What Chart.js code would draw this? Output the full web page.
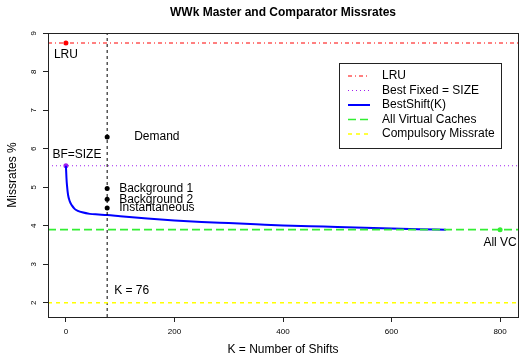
<!DOCTYPE html>
<html>
<head>
<meta charset="utf-8">
<script src="https://cdn.jsdelivr.net/npm/chart.js@4/dist/chart.umd.min.js"></script>
<style>
  html, body { margin: 0; padding: 0; background: #fff; }
  canvas { display: block; }
</style>
</head>
<body>
<canvas id="missChart" width="522" height="358"></canvas>
<script>
// BestShift(K) curve
const shiftK = [0, 1, 2, 4, 7, 11, 16, 22, 30, 44, 60, 76, 100, 150, 200, 250, 300, 350, 400, 450, 500, 550, 600, 650, 700];
const bestShift = [5.56, 5.25, 5.05, 4.80, 4.64, 4.53, 4.44, 4.39, 4.35, 4.31, 4.295, 4.28, 4.25, 4.19, 4.14, 4.10, 4.07, 4.04, 4.01, 3.99, 3.97, 3.95, 3.93, 3.91, 3.90];

// horizontal reference levels
const refNames = ['LRU', 'Best Fixed = SIZE', 'All Virtual Caches', 'Compulsory Missrate'];
const refValues = [8.75, 5.56, 3.90, 2.00];

// labelled marker points
const markerLabels = ['LRU', 'BF=SIZE', 'All VC'];
const markerK = [0, 0, 800];
const markerValues = [8.75, 5.56, 3.90];

// policies at the chosen K
const chosenK = 76;
const policyNames = ['Demand', 'Background 1', 'Background 2', 'Instantaneous'];
const policyValues = [6.31, 4.97, 4.69, 4.46];

const xTicks = [0, 200, 400, 600, 800];
const yTicks = [2, 3, 4, 5, 6, 7, 8, 9];
const xRange = [-33, 833];
const yRange = [1.63, 9.01];

const FONT = '"Liberation Sans", Arial, Helvetica, sans-serif';
const RED = '#FF0000', PURPLE = '#A020F0', BLUE = '#0000FF', GREEN = '#33EE33', YELLOW = '#FFFF00';

const refStyles = [
    {color: RED, dash: [4, 3, 1, 3], width: 1},
    {color: PURPLE, dash: [1, 3], width: 1.2},
    {color: GREEN, dash: [8, 4], width: 1.6},
    {color: YELLOW, dash: [4, 4], width: 1.5}
];

const hline = (i) => ({
    label: refNames[i],
    data: [{x: xRange[0], y: refValues[i]}, {x: xRange[1], y: refValues[i]}],
    showLine: true,
    borderColor: refStyles[i].color,
    borderDash: refStyles[i].dash,
    borderWidth: refStyles[i].width,
    pointRadius: 0
});

const datasets = [
    hline(0), hline(1), hline(3),
    {
        label: 'K line',
        data: [{x: chosenK, y: yRange[0]}, {x: chosenK, y: yRange[1]}],
        showLine: true, borderColor: '#000', borderDash: [3, 3], borderWidth: 1, pointRadius: 0
    },
    hline(2),
    {
        label: 'BestShift(K)',
        data: shiftK.map((k, i) => ({x: k, y: bestShift[i]})),
        showLine: true, borderColor: BLUE, borderWidth: 2, pointRadius: 0,
        cubicInterpolationMode: 'monotone'
    },
    {
        label: 'markers',
        data: markerK.map((k, i) => ({x: k, y: markerValues[i]})),
        showLine: false, pointRadius: 2.5, borderWidth: 0,
        pointBackgroundColor: [RED, PURPLE, GREEN]
    },
    {
        label: 'policies',
        data: policyValues.map(v => ({x: chosenK, y: v})),
        showLine: false, pointRadius: 2.5, borderWidth: 0, pointBackgroundColor: '#000'
    }
];

const decor = {
    id: 'decor',
    afterDraw(chart) {
        const ctx = chart.ctx, a = chart.chartArea;
        const xs = chart.scales.x, ys = chart.scales.y;
        ctx.save();
        // box
        ctx.strokeStyle = '#222';
        ctx.lineWidth = 1;
        ctx.strokeRect(a.left + 0.5, a.top + 0.5, a.right - a.left, a.bottom - a.top);

        // title + axis titles
        ctx.fillStyle = '#000';
        ctx.textAlign = 'center';
        ctx.textBaseline = 'middle';
        ctx.font = 'bold 12px ' + FONT;
        ctx.fillText('WWk Master and Comparator Missrates', (a.left + a.right) / 2, 13);
        ctx.font = '12px ' + FONT;
        ctx.fillText('K = Number of Shifts', (a.left + a.right) / 2, 350);
        ctx.save();
        ctx.translate(13, (a.top + a.bottom) / 2);
        ctx.rotate(-Math.PI / 2);
        ctx.fillText('Missrates %', 0, 0);
        ctx.restore();

        // rotated y tick labels
        ctx.font = '8px ' + FONT;
        yTicks.forEach(v => {
            ctx.save();
            ctx.translate(34, ys.getPixelForValue(v));
            ctx.rotate(-Math.PI / 2);
            ctx.fillText(String(v), 0, 0);
            ctx.restore();
        });

        // point labels
        ctx.font = '12px ' + FONT;
        ctx.fillText(markerLabels[0], xs.getPixelForValue(markerK[0]), ys.getPixelForValue(markerValues[0]) + 12);
        ctx.fillText(markerLabels[1], xs.getPixelForValue(markerK[1]) + 11, ys.getPixelForValue(markerValues[1]) - 11);
        ctx.fillText(markerLabels[2], xs.getPixelForValue(markerK[2]), ys.getPixelForValue(markerValues[2]) + 13);

        ctx.textAlign = 'left';
        const px = xs.getPixelForValue(chosenK);
        ctx.fillText(policyNames[0], px + 27, ys.getPixelForValue(policyValues[0]));
        for (let i = 1; i < policyNames.length; i++) {
            ctx.fillText(policyNames[i], px + 12, ys.getPixelForValue(policyValues[i]));
        }
        ctx.fillText('K = ' + chosenK, px + 7, ys.getPixelForValue(2.31));

        // legend
        const lx = 339, ly = 63, lw = 162, lh = 85;
        ctx.fillStyle = '#fff';
        ctx.fillRect(lx, ly, lw, lh);
        ctx.strokeStyle = '#222';
        ctx.strokeRect(lx + 0.5, ly + 0.5, lw, lh);
        const items = [
            {name: refNames[0], style: refStyles[0]},
            {name: refNames[1], style: refStyles[1]},
            {name: 'BestShift(K)', style: {color: BLUE, dash: [], width: 2}},
            {name: refNames[2], style: refStyles[2]},
            {name: refNames[3], style: refStyles[3]}
        ];
        items.forEach((it, i) => {
            const y = 76 + i * 14.5;
            ctx.strokeStyle = it.style.color;
            ctx.lineWidth = it.style.width;
            ctx.setLineDash(it.style.dash);
            ctx.beginPath();
            ctx.moveTo(348, y);
            ctx.lineTo(370, y);
            ctx.stroke();
            ctx.setLineDash([]);
            ctx.fillStyle = '#000';
            ctx.fillText(it.name, 382, y);
        });
        ctx.restore();
    }
};

new Chart(document.getElementById('missChart'), {
    type: 'scatter',
    data: {datasets},
    plugins: [decor],
    options: {
        responsive: false,
        animation: false,
        devicePixelRatio: 1,
        layout: {padding: {top: 33, right: 1, left: 0, bottom: 0}},
        plugins: {legend: {display: false}, tooltip: {enabled: false}, title: {display: false}},
        scales: {
            x: {
                type: 'linear', min: xRange[0], max: xRange[1],
                afterBuildTicks: (s) => { s.ticks = xTicks.map(v => ({value: v})); },
                afterFit: (s) => { s.height = 41; },
                grid: {drawOnChartArea: false, drawTicks: true, tickLength: 5, color: '#222'},
                border: {display: true, color: '#222', width: 1},
                ticks: {font: {size: 8, family: FONT}, color: '#000', padding: 5, maxRotation: 0}
            },
            y: {
                type: 'linear', min: yRange[0], max: yRange[1],
                afterBuildTicks: (s) => { s.ticks = yTicks.map(v => ({value: v})); },
                afterFit: (s) => { s.width = 48; },
                grid: {drawOnChartArea: false, drawTicks: true, tickLength: 5, color: '#222'},
                border: {display: true, color: '#222', width: 1},
                ticks: {display: false}
            }
        }
    }
});
</script>
</body>
</html>
